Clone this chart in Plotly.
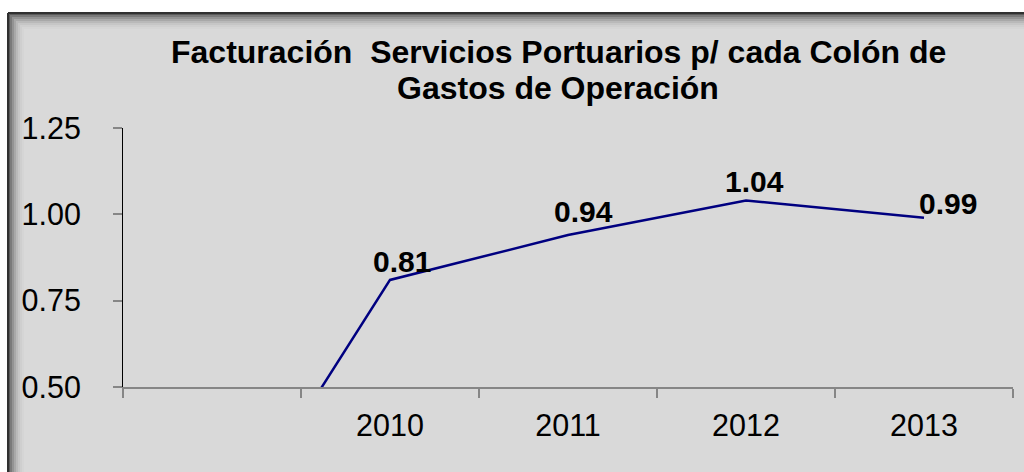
# Facturación servicios portuarios por cada colón de gastos de operación

import plotly.graph_objects as go

# Data
categories = ["", "2010", "2011", "2012", "2013"]
values = [0.00, 0.81, 0.94, 1.04, 0.99]
y_ticks = [0.50, 0.75, 1.00, 1.25]

title_line1 = "Facturación  Servicios Portuarios p/ cada Colón de"
title_line2 = "Gastos de Operación"

# label offsets in pixels (x, y) relative to each point
label_offsets = [(0, 0), (12, 18), (15, 24), (8, 19), (24, 14)]

W, H = 1024, 472
ml, mr, mt, mb = 123, 11, 128, 85
pw, ph = W - ml - mr, H - mt - mb


def px_x(px):
    return (px - ml) / pw


def px_y(py):
    return 1 - (py - mt) / ph


font = "Liberation Sans, Arial, sans-serif"
bg = "#d9d9d9"

x = list(range(len(categories)))

fig = go.Figure()
fig.add_trace(go.Scatter(
    x=x,
    y=values,
    mode="lines",
    line=dict(color="#000080", width=2.5),
    hoverinfo="skip",
    showlegend=False,
))

# chart area with border and soft inner shadow
shapes = [dict(type="rect", xref="paper", yref="paper",
               x0=px_x(8), x1=px_x(W + 20), y0=px_y(H + 20), y1=px_y(13),
               fillcolor=bg, line=dict(width=0), layer="below")]
shade = ["#5a5a5a", "#7a7a7a", "#939393", "#a8a8a8", "#b9b9b9", "#c6c6c6", "#cfcfcf", "#d5d5d5"]
for k, c in enumerate(shade):
    shapes.append(dict(type="rect", xref="paper", yref="paper",
                       x0=px_x(8 + 2 * k), x1=px_x(10 + 2 * k), y0=px_y(H + 20), y1=px_y(13 + 2 * k),
                       fillcolor=c, line=dict(width=0), layer="below"))
    shapes.append(dict(type="rect", xref="paper", yref="paper",
                       x0=px_x(8 + 2 * k), x1=px_x(W + 20), y0=px_y(15 + 2 * k), y1=px_y(13 + 2 * k),
                       fillcolor=c, line=dict(width=0), layer="below"))
shapes.append(dict(type="line", xref="paper", yref="paper",
                   x0=px_x(8), x1=px_x(8), y0=px_y(H + 20), y1=px_y(13),
                   line=dict(color="#303030", width=2), layer="below"))
shapes.append(dict(type="line", xref="paper", yref="paper",
                   x0=px_x(8), x1=px_x(W + 20), y0=px_y(13), y1=px_y(13),
                   line=dict(color="#303030", width=2), layer="below"))

annotations = [
    dict(text="<b>" + title_line1 + "</b>", xref="paper", yref="paper",
         x=px_x(558), y=px_y(52), xanchor="center", yanchor="middle",
         showarrow=False, font=dict(family=font, size=32, color="black")),
    dict(text="<b>" + title_line2 + "</b>", xref="paper", yref="paper",
         x=px_x(558), y=px_y(88), xanchor="center", yanchor="middle",
         showarrow=False, font=dict(family=font, size=32, color="black")),
]
for i, v in enumerate(values):
    if v < y_ticks[0] or categories[i] == "":
        continue
    dx, dy = label_offsets[i]
    annotations.append(dict(
        x=x[i], y=v, text="<b>%.2f</b>" % v, showarrow=False,
        xanchor="center", yanchor="middle", xshift=dx, yshift=dy,
        font=dict(family=font, size=30, color="black"),
    ))

fig.update_layout(
    width=W,
    height=H,
    margin=dict(l=ml, r=mr, t=mt, b=mb),
    paper_bgcolor="white",
    plot_bgcolor="rgba(0,0,0,0)",
    shapes=shapes,
    annotations=annotations,
    showlegend=False,
    xaxis=dict(
        range=[-0.5, len(categories) - 0.5],
        tickmode="array",
        tickvals=x,
        ticktext=categories,
        ticks="",
        showgrid=False,
        zeroline=False,
        showline=True,
        linecolor="#868686",
        linewidth=2,
        tickfont=dict(family=font, size=30.5, color="black"),
        ticklabelstandoff=10,
        minor=dict(
            tickmode="array",
            tickvals=[i - 0.5 for i in range(len(categories) + 1)],
            ticks="outside",
            ticklen=9,
            tickwidth=2,
            tickcolor="#868686",
            showgrid=False,
        ),
    ),
    yaxis=dict(
        range=[y_ticks[0], y_ticks[-1]],
        tickmode="array",
        tickvals=y_ticks,
        tickformat=".2f",
        ticks="outside",
        ticklen=9,
        tickwidth=2,
        tickcolor="#868686",
        showgrid=False,
        zeroline=False,
        showline=True,
        linecolor="black",
        linewidth=1,
        tickfont=dict(family=font, size=30.5, color="black"),
        ticklabelstandoff=26,
    ),
)

# drop the default page margin so the figure sits at the window corner
fig.write_html(
    "out.html",
    config={"displayModeBar": False},
    post_script="document.body.style.margin='0';document.body.style.overflow='hidden';",
)
